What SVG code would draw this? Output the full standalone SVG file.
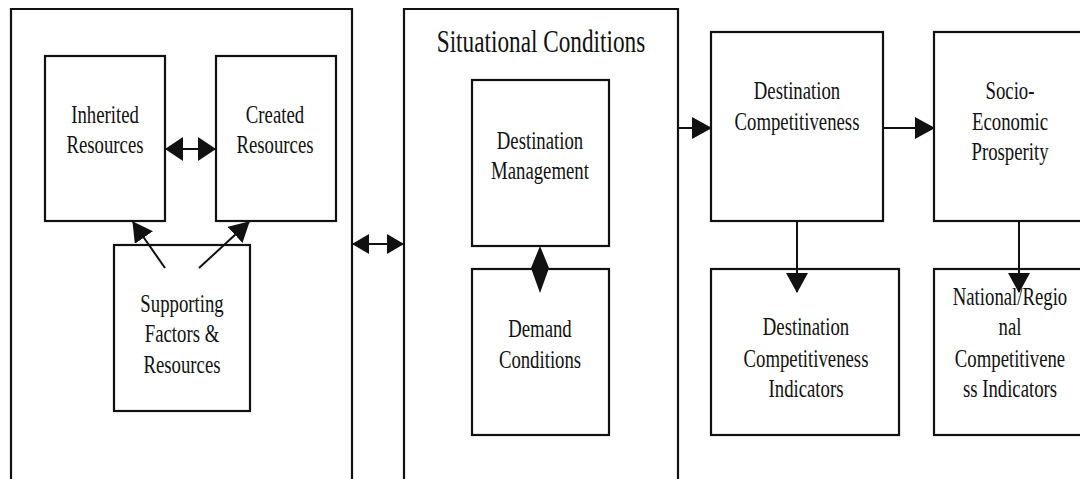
<svg xmlns="http://www.w3.org/2000/svg" width="1080" height="479" viewBox="0 0 1080 479">
<style>
.box{fill:#fff;stroke:#111;stroke-width:2.2}
.t{font-family:"Liberation Serif","Times New Roman",serif;font-size:25px;fill:#111;text-anchor:middle}
.title{font-size:31px}
.c{stroke:#111;stroke-width:2;fill:none}
.head{fill:#111}
</style>
<defs>
<marker id="ah" markerUnits="userSpaceOnUse" markerWidth="20" markerHeight="22" refX="19" refY="11" orient="auto-start-reverse" viewBox="0 0 20 22">
<path d="M0,0 L20,11 L0,22 Z" class="head"/>
</marker>
<marker id="ahd" markerUnits="userSpaceOnUse" markerWidth="18" markerHeight="24" refX="17" refY="12" orient="auto-start-reverse" viewBox="0 0 18 24">
<path d="M0,0 L18,12 L0,24 Z" class="head"/>
</marker>
<marker id="ahs" markerUnits="userSpaceOnUse" markerWidth="17" markerHeight="20" refX="16" refY="10" orient="auto-start-reverse" viewBox="0 0 17 20">
<path d="M0,0 L17,10 L0,20 Z" class="head"/>
</marker>
</defs>
<rect width="1080" height="479" fill="#fff"/>

<g id="left-group">
<path class="box" d="M11,485 V9 H352 V485" />
</g>
<g id="inherited">
<rect class="box" x="45" y="56" width="120" height="165"/>
<g transform="translate(105,0) scale(0.75,1)"><text class="t" x="0" y="123">Inherited</text><text class="t" x="0" y="153">Resources</text></g>
</g>
<g id="created">
<rect class="box" x="216" y="56" width="120" height="165"/>
<g transform="translate(275,0) scale(0.75,1)"><text class="t" x="0" y="123">Created</text><text class="t" x="0" y="153">Resources</text></g>
</g>
<g id="supporting">
<rect class="box" x="114" y="245" width="136" height="166"/>
<g transform="translate(182,0) scale(0.75,1)"><text class="t" x="0" y="312">Supporting</text><text class="t" x="0" y="342">Factors &amp;</text><text class="t" x="0" y="373">Resources</text></g>
</g>

<g id="situational">
<path class="box" d="M404,485 V9 H678 V485" />
<g transform="translate(541,0) scale(0.75,1)"><text class="t title" x="0" y="52">Situational Conditions</text></g>
</g>
<g id="destination-management">
<rect class="box" x="472" y="80" width="137" height="166"/>
<g transform="translate(540,0) scale(0.75,1)"><text class="t" x="0" y="149">Destination</text><text class="t" x="0" y="179">Management</text></g>
</g>
<g id="demand-conditions">
<rect class="box" x="472" y="269" width="137" height="166"/>
<g transform="translate(540,0) scale(0.75,1)"><text class="t" x="0" y="337">Demand</text><text class="t" x="0" y="368">Conditions</text></g>
</g>

<g id="destination-competitiveness">
<rect class="box" x="711" y="32" width="172" height="189"/>
<g transform="translate(797,0) scale(0.75,1)"><text class="t" x="0" y="99">Destination</text><text class="t" x="0" y="130">Competitiveness</text></g>
</g>
<g id="socio-economic">
<rect class="box" x="934" y="32" width="160" height="189"/>
<g transform="translate(1010,0) scale(0.75,1)"><text class="t" x="0" y="99">Socio-</text><text class="t" x="0" y="130">Economic</text><text class="t" x="0" y="160">Prosperity</text></g>
</g>
<g id="dc-indicators">
<rect class="box" x="711" y="269" width="188" height="166"/>
<g transform="translate(806,0) scale(0.75,1)"><text class="t" x="0" y="335">Destination</text><text class="t" x="0" y="367">Competitiveness</text><text class="t" x="0" y="397">Indicators</text></g>
</g>
<g id="national-indicators">
<rect class="box" x="934" y="269" width="160" height="166"/>
<g transform="translate(1010,0) scale(0.75,1)"><text class="t" x="0" y="305">National/Regio</text><text class="t" x="0" y="335">nal</text><text class="t" x="0" y="367">Competitivene</text><text class="t" x="0" y="397">ss Indicators</text></g>
</g>

<g id="connectors">
<line class="c" x1="166" y1="149" x2="215" y2="149" marker-start="url(#ahd)" marker-end="url(#ahd)"/>
<line class="c" x1="165" y1="268" x2="133" y2="222" marker-end="url(#ah)"/>
<line class="c" x1="199" y1="268" x2="249" y2="222" marker-end="url(#ah)"/>
<line class="c" x1="353" y1="244" x2="403" y2="244" marker-start="url(#ahs)" marker-end="url(#ahs)"/>
<path class="head" d="M540,246 L549,268 L540,293 L531,268 Z"/>
<line class="c" x1="679" y1="128" x2="711" y2="128" marker-end="url(#ah)"/>
<line class="c" x1="884" y1="128" x2="934" y2="128" marker-end="url(#ah)"/>
<line class="c" x1="797" y1="222" x2="797" y2="292" marker-end="url(#ah)"/>
<line class="c" x1="1019" y1="222" x2="1019" y2="292" marker-end="url(#ah)"/>
</g>
</svg>
